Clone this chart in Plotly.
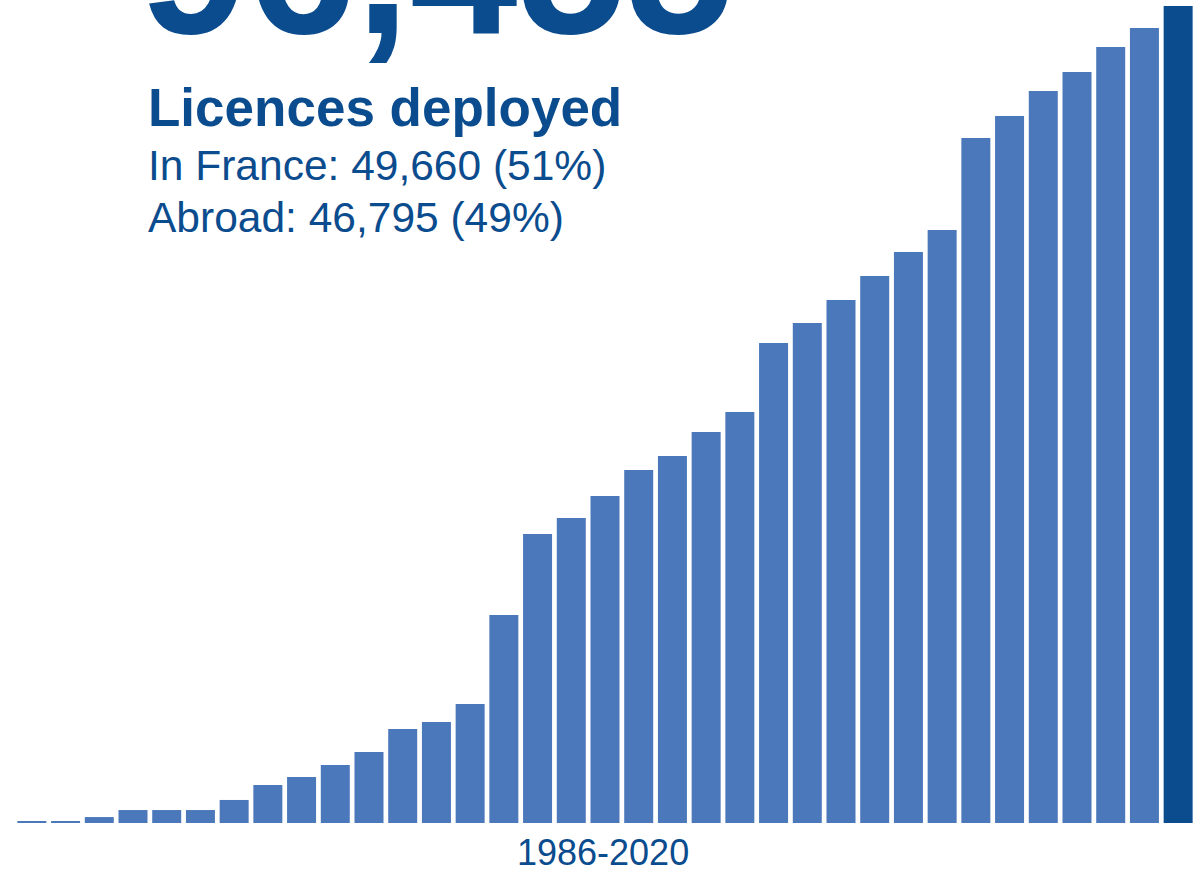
import plotly.graph_objects as go

years = [str(y) for y in range(1986, 2021)]
licences = [120, 240, 700, 1530, 1530, 1530, 2720, 4490, 5430, 6850,
            8380, 11100, 11920, 14050, 24560, 34120, 36010, 38600, 41680, 43330,
            46160, 48520, 56670, 59030, 61750, 64580, 67410, 70010, 80870, 83470,
            86420, 88660, 91610, 93860, 96455]
total_label = "96,455"
title_label = "Licences deployed"
france_label = "In France: 49,660 (51%)"
abroad_label = "Abroad: 46,795 (49%)"
period_label = "1986-2020"

light = "#4A78BB"
dark = "#0B4C8E"
colors = [light] * (len(years) - 1) + [dark]
font = "Liberation Sans, Arial, sans-serif"

fig = go.Figure(go.Bar(x=years, y=licences, marker=dict(color=colors, line=dict(width=0)),
                       hoverinfo="skip"))

H = 870
top, bottom = 0, 47
plot_h = H - top - bottom

def py(pixel):
    return (H - bottom - pixel) / plot_h

fig.add_annotation(text="<b>" + total_label + "</b>", x=0.104, y=py(-35), xref="paper", yref="paper",
                   xanchor="left", yanchor="middle", showarrow=False,
                   font=dict(family=font, size=194, color=dark))
fig.add_annotation(text="<b>" + title_label + "</b>", x=0.111, y=py(108), xref="paper", yref="paper",
                   xanchor="left", yanchor="middle", showarrow=False,
                   font=dict(family=font, size=53, color=dark))
fig.add_annotation(text=france_label, x=0.111, y=py(166), xref="paper", yref="paper",
                   xanchor="left", yanchor="middle", showarrow=False,
                   font=dict(family=font, size=42.5, color=dark))
fig.add_annotation(text=abroad_label, x=0.111, y=py(217), xref="paper", yref="paper",
                   xanchor="left", yanchor="middle", showarrow=False,
                   font=dict(family=font, size=42.5, color=dark))
fig.add_annotation(text=period_label, x=0.4985, y=py(852), xref="paper", yref="paper",
                   xanchor="center", yanchor="middle", showarrow=False,
                   font=dict(family=font, size=36, color=dark))

fig.update_layout(
    width=1204, height=870,
    margin=dict(l=15, r=9, t=top, b=bottom, pad=0),
    paper_bgcolor="white", plot_bgcolor="white",
    bargap=0.14, showlegend=False,
    xaxis=dict(showticklabels=False, showgrid=False, zeroline=False, showline=False, ticks=""),
    yaxis=dict(range=[0, 97163], showticklabels=False, showgrid=False, zeroline=False, showline=False, ticks=""),
)

fig.write_html("out.html", config={"displayModeBar": False},
               post_script="document.body.style.margin='0';document.body.style.overflow='hidden';")
